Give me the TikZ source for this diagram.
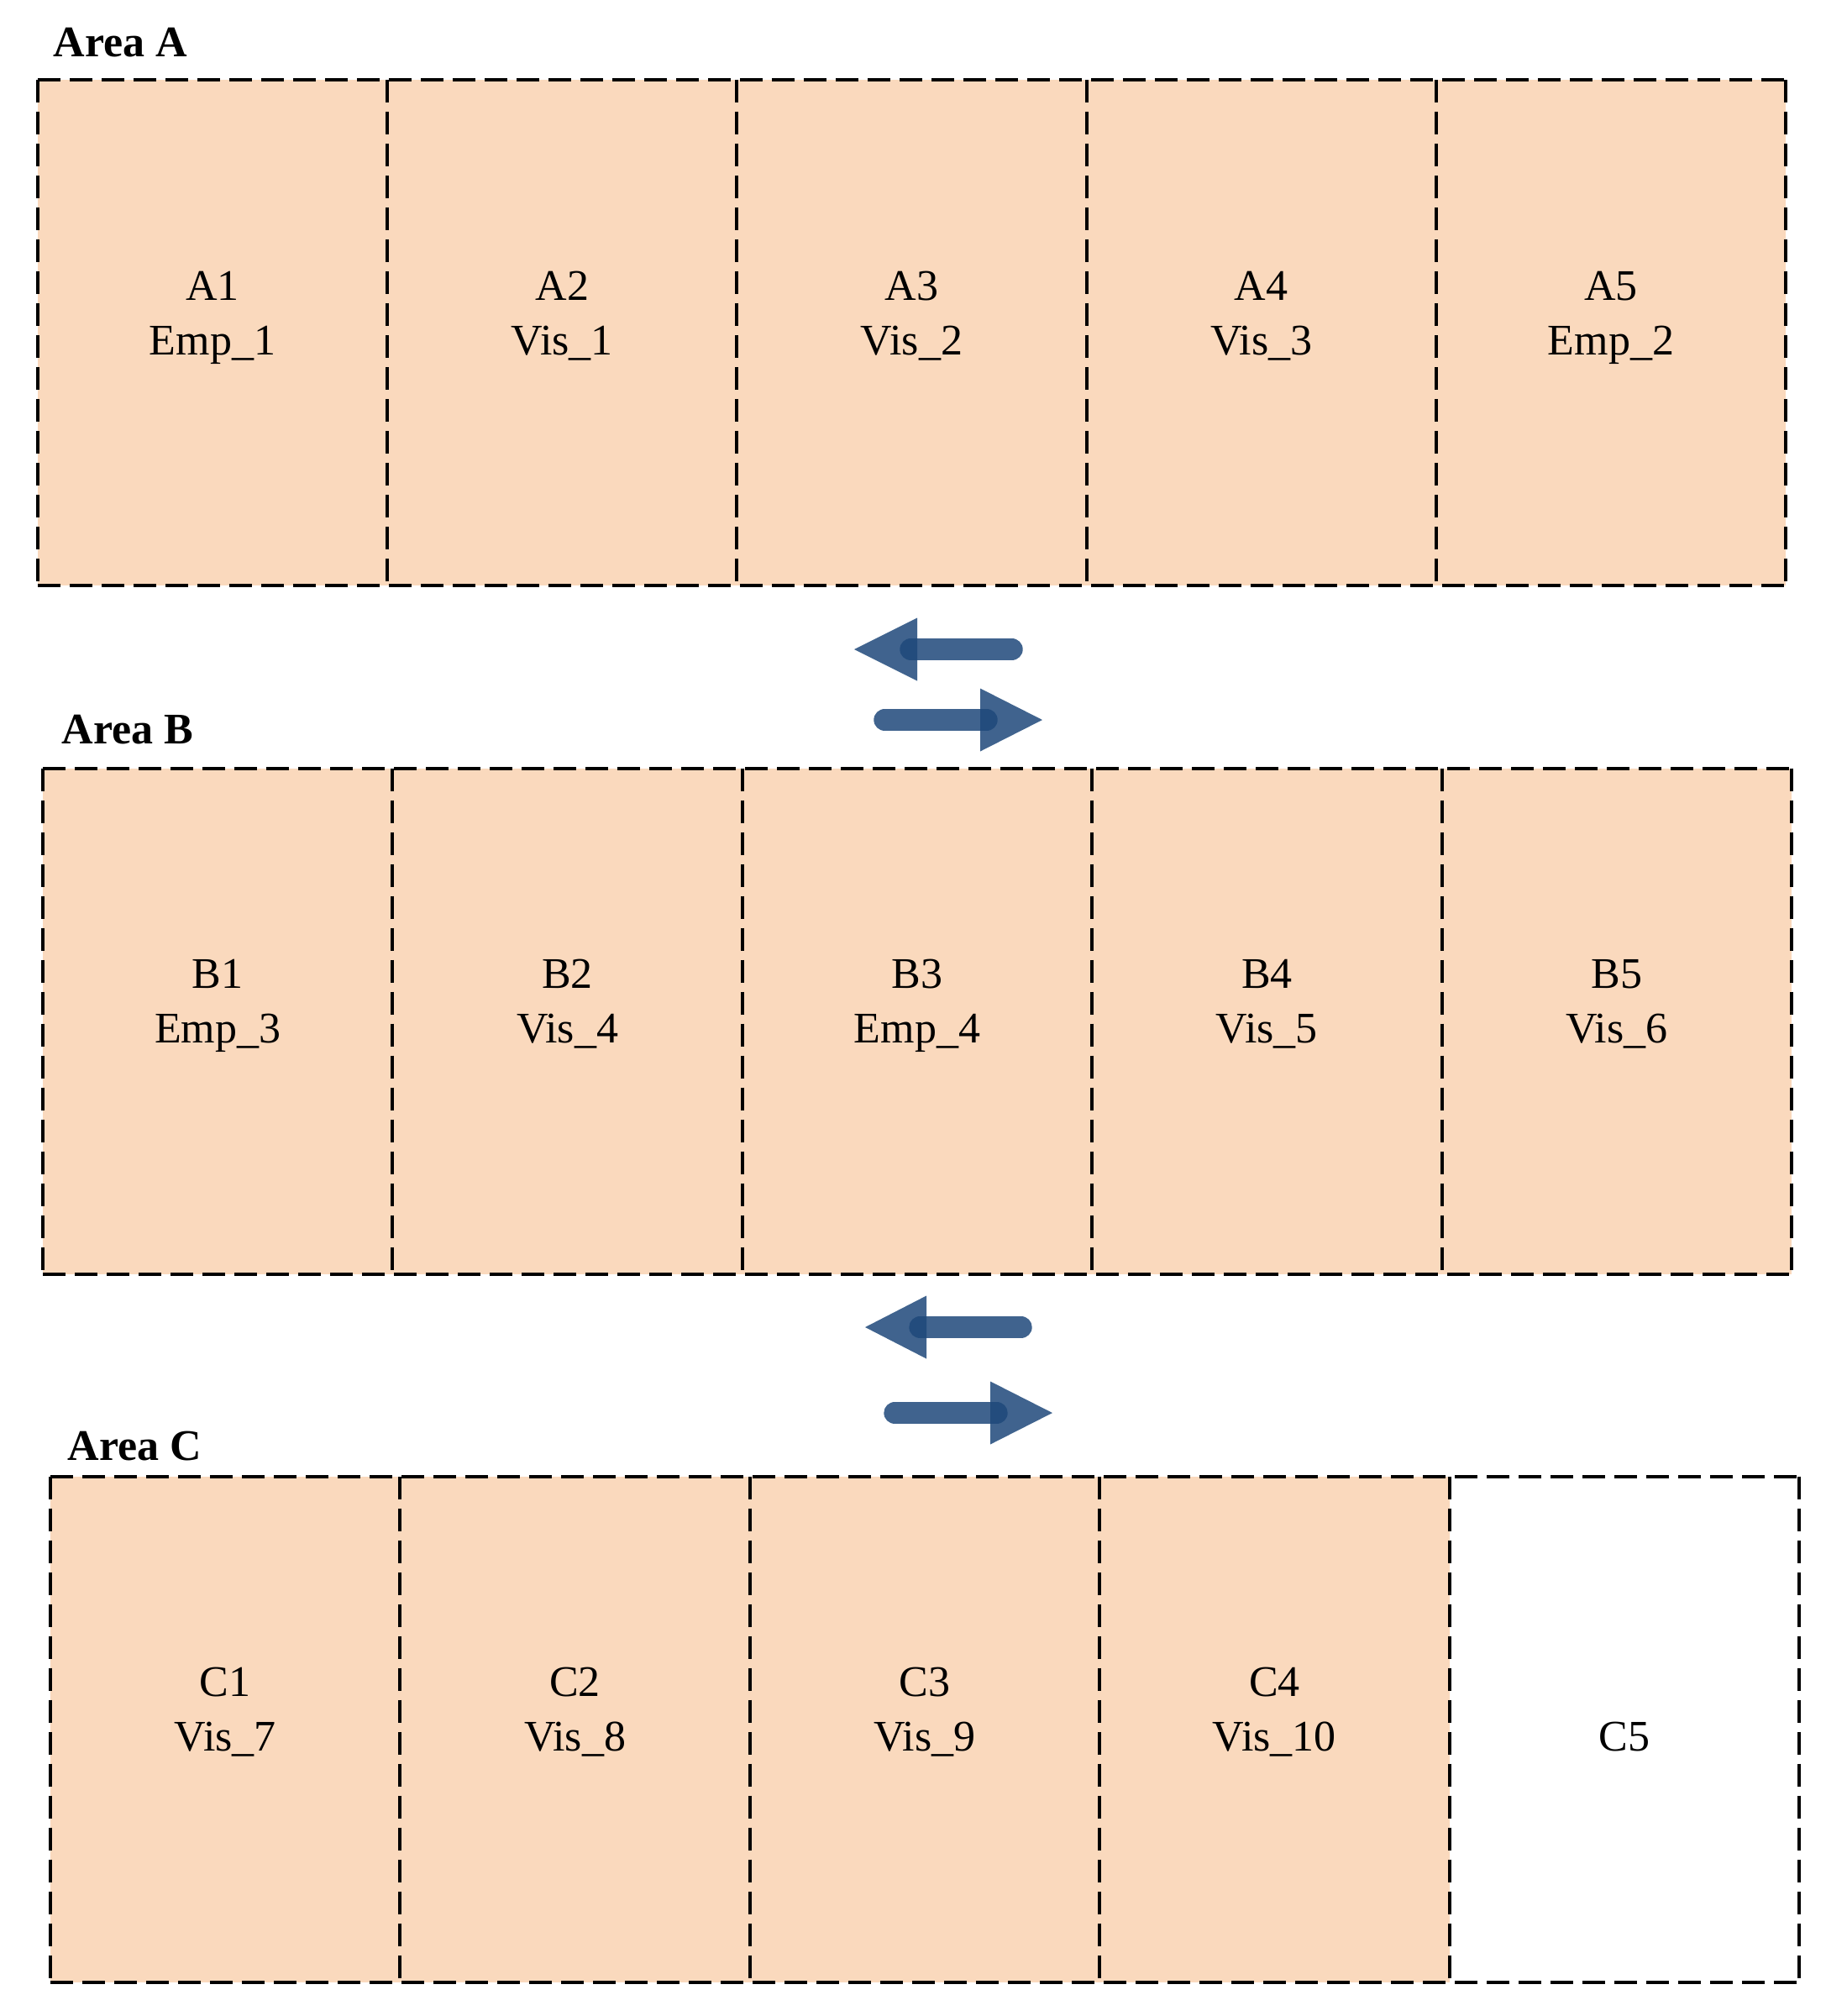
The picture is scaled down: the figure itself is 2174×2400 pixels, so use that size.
\documentclass[tikz,border=0pt]{standalone}
\usepackage{fontspec}
\setmainfont{Liberation Serif}
\definecolor{peach}{RGB}{250,217,189}
\definecolor{arrowblue}{RGB}{30,72,122}
\begin{document}
\begin{tikzpicture}[x=0.25pt,y=-0.25pt,
  cell/.style={rectangle, inner sep=0pt, outer sep=0pt, minimum width=104.08pt, minimum height=150.5pt, fill=peach},
  emptycell/.style={cell, fill=none},
  border/.style={line width=1pt, dash pattern=on 6.75pt off 2.75pt},
  lbl/.style={font=\fontsize{13}{16}\selectfont, inner sep=0pt, anchor=base},
  areatitle/.style={font=\fontsize{13}{16}\selectfont\bfseries, inner sep=0pt, anchor=base west},
  shaft/.style={draw=arrowblue, draw opacity=0.85, line width=6.6pt, line cap=round},
  head/.style={fill=arrowblue, fill opacity=0.85},
]
\useasboundingbox (0,0) rectangle (2174,2400);

% ---------- Area A ----------
\node[areatitle] (tA) at (63,67) {Area A};
\node[cell] (A1) at (253.1,396) {};
\node[cell] (A2) at (669.3,396) {};
\node[cell] (A3) at (1085.5,396) {};
\node[cell] (A4) at (1501.7,396) {};
\node[cell] (A5) at (1917.9,396) {};

% ---------- Area B ----------
\node[areatitle] (tB) at (73,885) {Area B};
\node[cell] (B1) at (259.2,1215.5) {};
\node[cell] (B2) at (675.6,1215.5) {};
\node[cell] (B3) at (1092,1215.5) {};
\node[cell] (B4) at (1508.4,1215.5) {};
\node[cell] (B5) at (1924.8,1215.5) {};

% ---------- Area C ----------
\node[areatitle] (tC) at (80,1738) {Area C};
\node[cell] (C1) at (268.2,2058.5) {};
\node[cell] (C2) at (684.6,2058.5) {};
\node[cell] (C3) at (1101,2058.5) {};
\node[cell] (C4) at (1517.4,2058.5) {};
\node[emptycell] (C5) at (1933.8,2058.5) {};

% ---------- dashed borders ----------
\foreach \r in {A,B,C}{
  \draw[border] (\r1.north west) -- (\r5.north east);
  \draw[border] (\r1.south west) -- (\r5.south east);
  \draw[border] (\r1.north west) -- (\r1.south west);
  \draw[border] (\r5.north east) -- (\r5.south east);
  \foreach \i in {1,2,3,4}{
    \draw[border] (\r\i.north east) -- (\r\i.south east);
  }
}

% ---------- labels ----------
\node[lbl] (A1a) at ([yshift=9.75pt]A1.center) {A1};
\node[lbl] (A1b) at ([yshift=-6.5pt]A1.center) {Emp\_1};
\node[lbl] (A2a) at ([yshift=9.75pt]A2.center) {A2};
\node[lbl] (A2b) at ([yshift=-6.5pt]A2.center) {Vis\_1};
\node[lbl] (A3a) at ([yshift=9.75pt]A3.center) {A3};
\node[lbl] (A3b) at ([yshift=-6.5pt]A3.center) {Vis\_2};
\node[lbl] (A4a) at ([yshift=9.75pt]A4.center) {A4};
\node[lbl] (A4b) at ([yshift=-6.5pt]A4.center) {Vis\_3};
\node[lbl] (A5a) at ([yshift=9.75pt]A5.center) {A5};
\node[lbl] (A5b) at ([yshift=-6.5pt]A5.center) {Emp\_2};

\node[lbl] (B1a) at ([yshift=9.75pt]B1.center) {B1};
\node[lbl] (B1b) at ([yshift=-6.5pt]B1.center) {Emp\_3};
\node[lbl] (B2a) at ([yshift=9.75pt]B2.center) {B2};
\node[lbl] (B2b) at ([yshift=-6.5pt]B2.center) {Vis\_4};
\node[lbl] (B3a) at ([yshift=9.75pt]B3.center) {B3};
\node[lbl] (B3b) at ([yshift=-6.5pt]B3.center) {Emp\_4};
\node[lbl] (B4a) at ([yshift=9.75pt]B4.center) {B4};
\node[lbl] (B4b) at ([yshift=-6.5pt]B4.center) {Vis\_5};
\node[lbl] (B5a) at ([yshift=9.75pt]B5.center) {B5};
\node[lbl] (B5b) at ([yshift=-6.5pt]B5.center) {Vis\_6};

\node[lbl] (C1a) at ([yshift=9.75pt]C1.center) {C1};
\node[lbl] (C1b) at ([yshift=-6.5pt]C1.center) {Vis\_7};
\node[lbl] (C2a) at ([yshift=9.75pt]C2.center) {C2};
\node[lbl] (C2b) at ([yshift=-6.5pt]C2.center) {Vis\_8};
\node[lbl] (C3a) at ([yshift=9.75pt]C3.center) {C3};
\node[lbl] (C3b) at ([yshift=-6.5pt]C3.center) {Vis\_9};
\node[lbl] (C4a) at ([yshift=9.75pt]C4.center) {C4};
\node[lbl] (C4b) at ([yshift=-6.5pt]C4.center) {Vis\_10};
\node[lbl] (C5a) at ([yshift=-6.5pt]C5.center) {C5};

% ---------- arrows between A and B ----------
\coordinate (ab1s) at (1204.5,773);
\coordinate (ab1e) at (1084.5,773);
\coordinate (ab1tip) at (1017,773);
\draw[shaft] (ab1s) -- (ab1e);
\fill[head] (ab1tip) -- ++(75,-37.5) -- ++(0,75) -- cycle;

\coordinate (ab2s) at (1053.5,857);
\coordinate (ab2e) at (1174.5,857);
\coordinate (ab2tip) at (1241,857);
\draw[shaft] (ab2s) -- (ab2e);
\fill[head] (ab2tip) -- ++(-74,-37.5) -- ++(0,75) -- cycle;

% ---------- arrows between B and C ----------
\coordinate (bc1s) at (1215.5,1580);
\coordinate (bc1e) at (1095.5,1580);
\coordinate (bc1tip) at (1030,1580);
\draw[shaft] (bc1s) -- (bc1e);
\fill[head] (bc1tip) -- ++(73,-37.5) -- ++(0,75) -- cycle;

\coordinate (bc2s) at (1065.5,1682);
\coordinate (bc2e) at (1186.5,1682);
\coordinate (bc2tip) at (1253,1682);
\draw[shaft] (bc2s) -- (bc2e);
\fill[head] (bc2tip) -- ++(-74,-37.5) -- ++(0,75) -- cycle;
\end{tikzpicture}
\end{document}
